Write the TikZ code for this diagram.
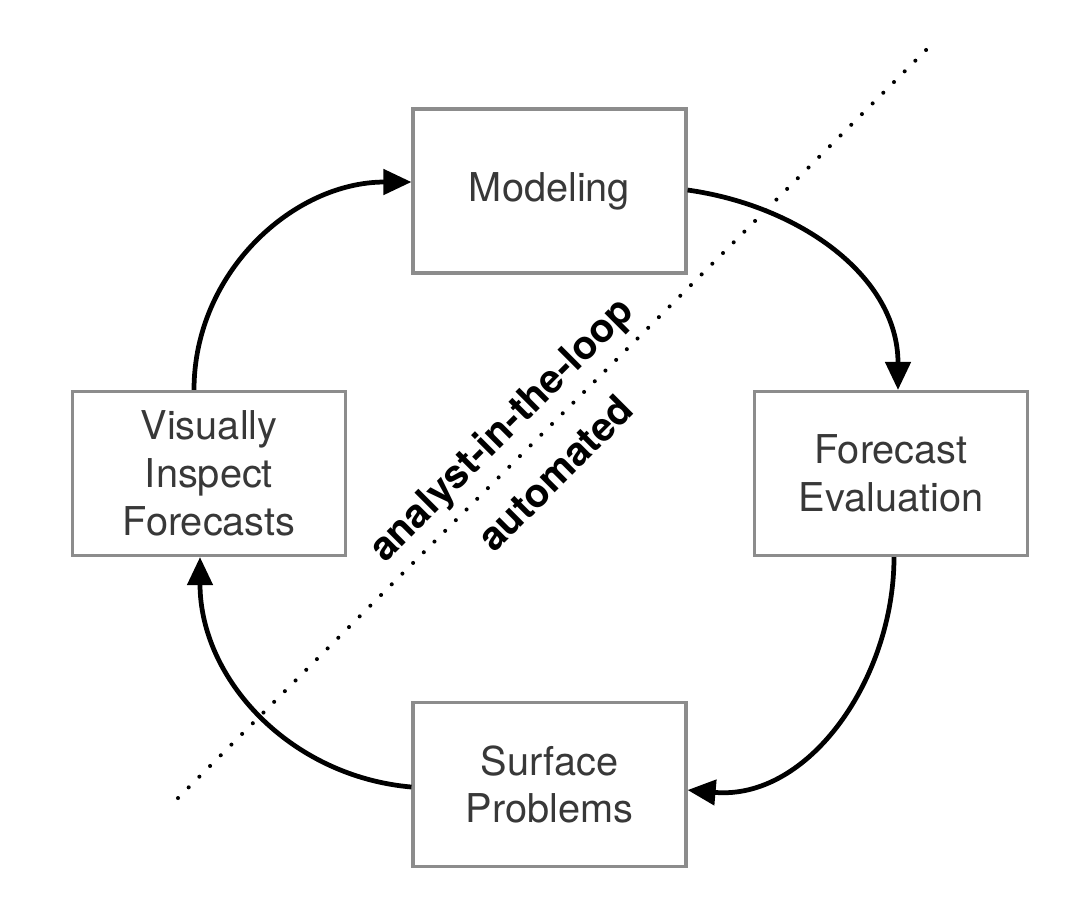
\documentclass[tikz,border=0pt]{standalone}
\usepackage{fontspec}
\setmainfont{TeX Gyre Heros}
\usepackage{tikz}
\usetikzlibrary{arrows.meta}
\usetikzlibrary{positioning}

\begin{document}
\begin{tikzpicture}
    [
    stage/.style={rectangle,draw=black!45,line width=0.9pt,minimum width=2.73cm,minimum height=1.64cm,inner sep=0pt,align=center,text=black!78,font=\fontsize{11.3}{13.6}\selectfont},
    flow/.style={line width=1.35pt,-{Triangle[length=2.8mm,width=2.5mm]}},
    side/.style={rotate=45,font=\fontsize{11.3}{13.6}\selectfont\bfseries}
    ]
    \useasboundingbox (0,0) rectangle (10.92,-9.02);
    \node (mod) at (5.495,-1.91) [stage] {Modeling};
    \node (vis) at (2.09,-4.735) [stage] {Visually\\Inspect\\Forecasts};
    \node (fcst) at (8.91,-4.735) [stage] {Forecast\\Evaluation};
    \node (surf) at (5.495,-7.845) [stage] {Surface\\Problems};

    \draw [flow] ([xshift=-1.5mm]vis.north) to [out=90,in=180] ([yshift=0.9mm]mod.west);
    \draw [flow] ([yshift=0.1mm]mod.east) to [out=-8,in=90] ([xshift=0.7mm]fcst.north);
    \draw [flow] ([xshift=0.3mm]fcst.south) to [out=-90,in=-5] ([yshift=-0.55mm]surf.east);
    \draw [flow] ([yshift=-0.25mm]surf.west) to [out=175,in=-90] ([xshift=-0.9mm]vis.south);

    \coordinate (dlow) at (1.78,-7.98);
    \coordinate (dup) at (9.30,-0.46);
    \draw [line width=1.15pt,line cap=round,dash pattern=on 0pt off 4.3pt] (dlow) -- (dup);
    \node (human) at (5.03,-4.31) [side] {analyst-in-the-loop};
    \node (auto) at (5.55,-4.73) [side] {automated};
  \end{tikzpicture}
\end{document}
